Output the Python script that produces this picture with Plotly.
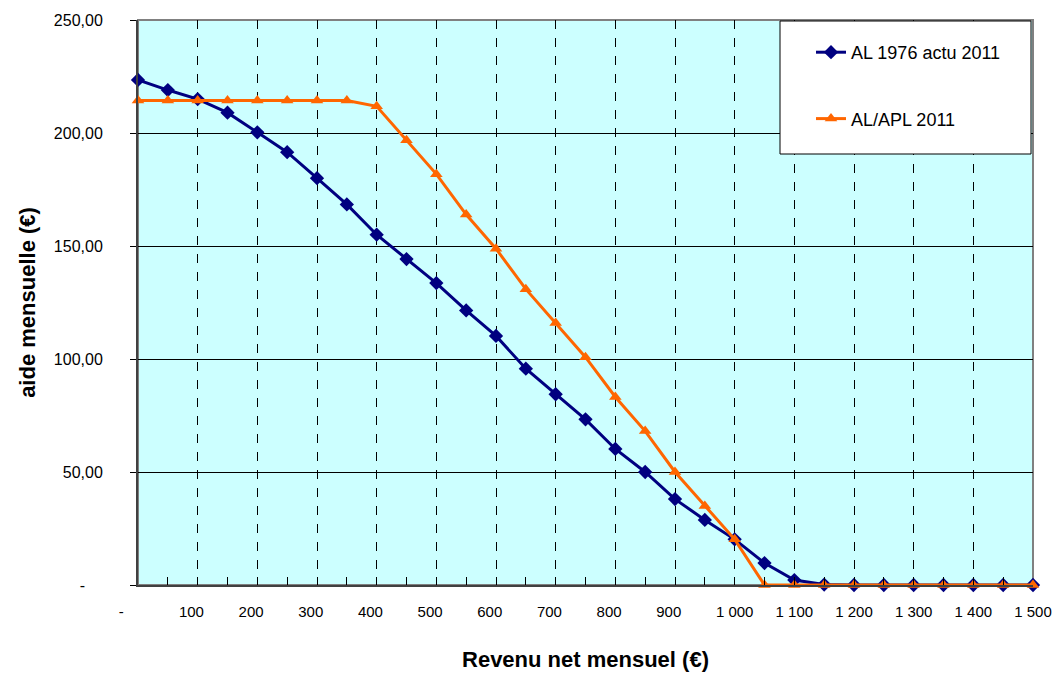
import plotly.graph_objects as go

revenu = [0, 50, 100, 150, 200, 250, 300, 350, 400, 450, 500, 550, 600, 650, 700, 750,
          800, 850, 900, 950, 1000, 1050, 1100, 1150, 1200, 1250, 1300, 1350, 1400, 1450, 1500]
al_1976 = [223.5, 219.0, 215.0, 209.0, 200.3, 191.5, 180.0, 168.4, 155.0, 144.2, 133.6, 121.5,
           110.2, 95.7, 84.4, 73.3, 60.2, 50.0, 38.0, 28.8, 20.2, 9.7, 2.2, 0.2, 0, 0, 0, 0, 0, 0, 0]
al_apl_2011 = [214.4, 214.4, 214.4, 214.4, 214.4, 214.4, 214.4, 214.4, 211.8, 196.8, 181.8, 163.9,
               148.8, 130.9, 115.9, 100.8, 83.2, 68.1, 50.0, 35.0, 20.2, 0, 0, 0, 0, 0, 0, 0, 0, 0, 0]

x_tickvals = [0, 100, 200, 300, 400, 500, 600, 700, 800, 900, 1000, 1100, 1200, 1300, 1400, 1500]
x_ticktext = ["-", "100", "200", "300", "400", "500", "600", "700", "800", "900",
              "1 000", "1 100", "1 200", "1 300", "1 400", "1 500"]
y_tickvals = [0, 50, 100, 150, 200, 250]
y_ticktext = ["-", "50,00", "100,00", "150,00", "200,00", "250,00"]

NB = "\u00a0"
# Excel-style labels: left-aligned in a fixed-width slot
x_labels = [t + NB * (8 if t == "-" else (3 if len(t) == 3 else 0)) for t in x_ticktext]
y_labels = [t + NB * 4 if t == "-" else t for t in y_ticktext]

fig = go.Figure()
fig.add_trace(go.Scatter(
    x=revenu, y=al_1976, name="AL 1976 actu 2011", mode="lines+markers",
    line=dict(color="#000080", width=3),
    marker=dict(symbol="diamond", size=11, color="#000080"),
    legendgroup="a", cliponaxis=False))
fig.add_trace(go.Scatter(
    x=revenu, y=al_apl_2011, name="AL/APL 2011", mode="lines+markers",
    line=dict(color="#FF6600", width=3),
    marker=dict(symbol="triangle-up", size=11, color="#FF6600"),
    legendgroup="b", cliponaxis=False))

fig.add_shape(type="rect", xref="paper", yref="paper",
              x0=(780 - 138) / 895, x1=(1031 - 138) / 895,
              y0=(585 - 154) / 565, y1=(585 - 21) / 565,
              fillcolor="white", line=dict(color="black", width=1), layer="above")

fig.update_layout(
    width=1055, height=673,
    margin=dict(l=138, r=22, t=20, b=88, autoexpand=False),
    paper_bgcolor="white",
    plot_bgcolor="#CCFFFF",
    font=dict(family="Liberation Sans, Arial, sans-serif", color="black", size=12),
    showlegend=True,
    legend=dict(x=(811 - 138) / 895, y=(585 - 34) / 565, xanchor="left", yanchor="top",
                bgcolor="rgba(0,0,0,0)", borderwidth=0,
                font=dict(size=18, color="black"),
                traceorder="grouped", tracegroupgap=40),
    xaxis=dict(
        range=[0, 1500], automargin=False,
        tickmode="array", tickvals=x_tickvals, ticktext=x_labels,
        ticks="inside", ticklen=8, tickcolor="black",
        minor=dict(ticks="inside", dtick=50, ticklen=8, tickcolor="black", showgrid=False),
        showgrid=True, gridcolor="black", griddash="dash", gridwidth=1,
        showline=True, linecolor="#404040", linewidth=2, mirror=False,
        zeroline=False, ticklabelstandoff=12,
        title=dict(text="<b>Revenu net mensuel (€)</b>", font=dict(size=22), standoff=33),
        tickfont=dict(size=15),
    ),
    yaxis=dict(
        range=[0, 250], automargin=False,
        tickmode="array", tickvals=y_tickvals, ticktext=y_labels,
        ticks="outside", ticklen=6, tickcolor="black",
        showgrid=True, gridcolor="black", gridwidth=1,
        showline=True, linecolor="#404040", linewidth=2,
        zeroline=False, ticklabelstandoff=24,
        title=dict(text="<b>aide mensuelle (€)</b>", font=dict(size=22), standoff=12),
        tickfont=dict(size=16),
    ),
)
fig.add_shape(type="rect", xref="paper", yref="paper", x0=0, x1=1, y0=0, y1=1,
              line=dict(color="#808080", width=2), layer="below")

fig.write_html("out.html")
